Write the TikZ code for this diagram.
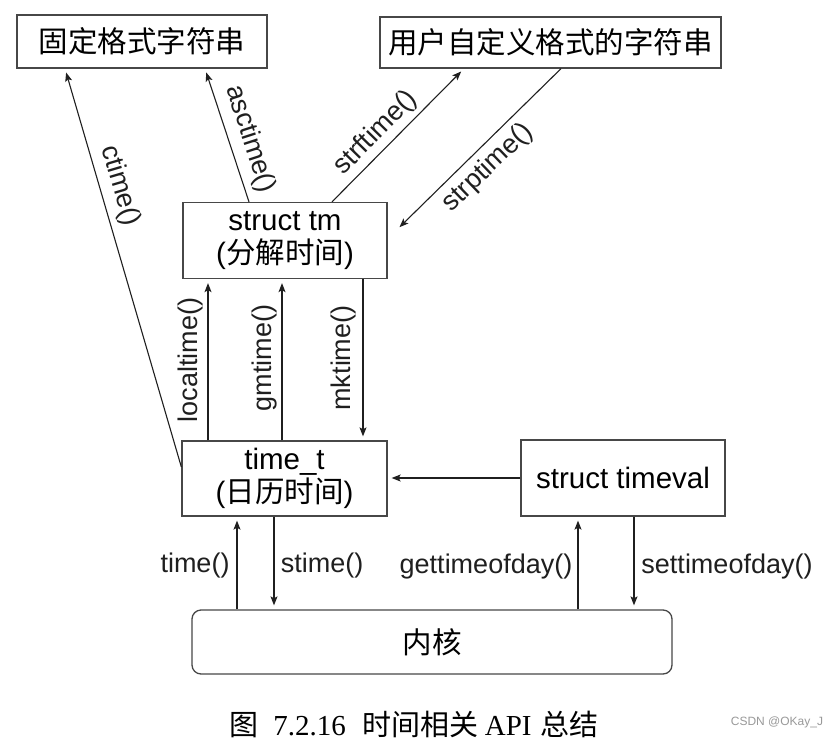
\documentclass[tikz,border=0pt]{standalone}
\usepackage{fontspec}
\setmainfont{Liberation Sans}
\newfontfamily\cjkfont{Noto Sans CJK SC}
\newfontfamily\capserif{Liberation Serif}
\newcommand\zhtxt[1]{{\cjkfont #1}}
\usetikzlibrary{arrows.meta}
\begin{document}
\begin{tikzpicture}[x=1pt,y=-1pt,
  box/.style={draw=black!72, line width=1.3pt, inner sep=0pt, align=center,
    font=\fontsize{29.5}{33}\selectfont},
  arr/.style={-{Stealth[length=9pt,width=7pt,inset=2pt]}, draw=black!88,
    line width=1.1pt, shorten >=4pt},
  lbl/.style={font=\fontsize{27}{30}\selectfont, inner sep=0pt, text=black!88}]
\useasboundingbox (0,0) rectangle (840,744);
\fill[white] (0,0) rectangle (840,744);

% boxes
\node[box, minimum width=250pt, minimum height=53pt] (fixed) at (142,41.5) {\zhtxt{固定格式字符串}};
\node[box, minimum width=341pt, minimum height=51pt] (user) at (550.5,42.5) {\zhtxt{用户自定义格式的字符串}};
\node[box, minimum width=204pt, minimum height=76pt] (tm) at (285,240.5) {struct tm\\(\zhtxt{分解时间})};
\node[box, minimum width=205pt, minimum height=75pt] (tt) at (284.5,478.5) {time\_t\\(\zhtxt{日历时间})};
\node[box, minimum width=204pt, minimum height=76pt] (tv) at (623,478) {struct timeval};
\node[box, rounded corners=9pt, minimum width=480pt, minimum height=64pt] (kern) at (432,642) {\zhtxt{内核}};

% x positions of vertical connectors
\coordinate (xa) at (208,0);
\coordinate (xb) at (282,0);
\coordinate (xc) at (363,0);
\coordinate (xd) at (237,0);
\coordinate (xe) at (274,0);
\coordinate (xf) at (578,0);
\coordinate (xg) at (634,0);

% connectors
\draw[arr] ([yshift=11.5pt]tt.west) -- ([xshift=-77pt]fixed.south);
\draw[arr] ([xshift=-36pt]tm.north) -- ([xshift=63pt]fixed.south);
\draw[arr] ([xshift=47pt]tm.north) -- ([xshift=-86.5pt]user.south);
\draw[arr] ([xshift=10.5pt]user.south) -- ([xshift=9pt,yshift=10.5pt]tm.east);
\draw[arr] (tt.north -| xa) -- (tm.south -| xa);
\draw[arr] (tt.north -| xb) -- (tm.south -| xb);
\draw[arr] (tm.south -| xc) -- (tt.north -| xc);
\draw[arr] (tv.west) -- (tt.east |- tv.west);
\draw[arr] (kern.north -| xd) -- (tt.south -| xd);
\draw[arr] (tt.south -| xe) -- (kern.north -| xe);
\draw[arr] (kern.north -| xf) -- (tv.south -| xf);
\draw[arr] (tv.south -| xg) -- (kern.north -| xg);

% connector labels
\node[lbl, rotate=-73.5] (lctime) at (120,186) {ctime()};
\node[lbl, rotate=-72] (lasctime) at (250,139) {asctime()};
\node[lbl, rotate=45.6] (lstrf) at (376,133) {strftime()};
\node[lbl, rotate=44] (lstrp) at (488,168) {strptime()};
\node[lbl, rotate=90] (lloc) at (191,360) {localtime()};
\node[lbl, rotate=90] (lgm) at (265,358) {gmtime()};
\node[lbl, rotate=90] (lmk) at (344,358) {mktime()};
\node[lbl] (ltime) at (195,566) {time()};
\node[lbl] (lstime) at (322,566) {stime()};
\node[lbl] (lget) at (486,567) {gettimeofday()};
\node[lbl] (lset) at (727,567) {settimeofday()};

% caption and watermark
\node[inner sep=0pt, font=\fontsize{29}{31}\selectfont\capserif] (cap) at (414,724)
  {\zhtxt{图}\hspace{15pt}7.2.16\hspace{17pt}\zhtxt{时间相关}\hspace{6pt}API\hspace{9pt}\zhtxt{总结}};
\node[inner sep=0pt, font=\fontsize{12}{14}\selectfont, text=black!40] (wm) at (777,722) {CSDN @OKay\_J};
\end{tikzpicture}
\end{document}
